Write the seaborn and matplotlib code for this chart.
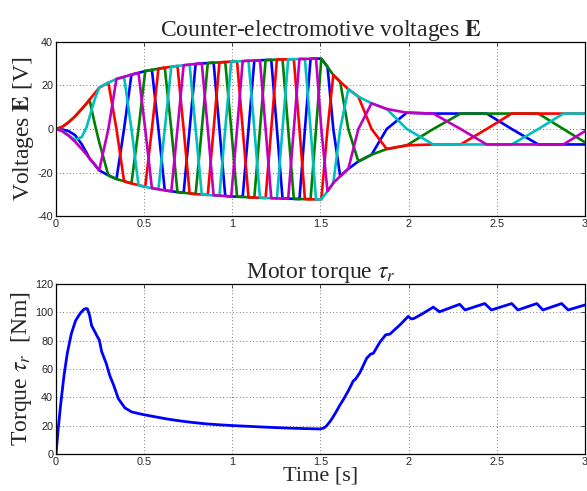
import matplotlib
matplotlib.use("Agg")
import matplotlib.pyplot as plt
import pandas as pd
import seaborn as sns

# event times of the 5-phase back-EMF (corners / zero crossings)
t_ev = [0, 0.035, 0.07, 0.108, 0.146, 0.174, 0.19, 0.221, 0.245,
        0.297, 0.343, 0.386, 0.428, 0.468, 0.506, 0.544, 0.581, 0.617, 0.654,
        0.689, 0.724, 0.758, 0.792, 0.827, 0.861, 0.894, 0.927, 0.960, 0.994,
        1.027, 1.059, 1.092, 1.125, 1.157, 1.189, 1.221, 1.253, 1.285, 1.317,
        1.349, 1.381, 1.412, 1.444, 1.475, 1.505, 1.540, 1.573, 1.612, 1.658,
        1.715, 1.790, 1.876, 1.990, 2.140, 2.295, 2.443, 2.585, 2.736, 2.878, 3.020]

e_blue = [0, -0.2, -0.9, -2.8, -7.0, -11.0, -13.5, -16.5, -19.0,
          -21.3, -23.0, 0, 25.0, 25.8, 26.6, 27.2, 0, -28.2, -28.6,
          -29.0, -29.3, 0, 29.9, 30.1, 30.3, 30.5, 0, -30.8, -31.0,
          -31.1, -31.2, 0, 31.5, 31.6, 31.7, 31.8, 0, -32.0, -32.0,
          -32.1, -32.2, 0, 32.3, 32.4, 32.3, 28.6, 0, -21.7, -18.3,
          -14.9, -11.8, 0, 7.5, 7.1, 7.1, 7.1, 0, -7.1, -7.1, -7.1]

e_green = [0, 1.0, 3.0, 5.8, 9.2, 11.8, 13.5, 2.0, -6.0,
           -21.3, -23.0, -24.0, -25.0, 0, 26.6, 27.2, 27.7, 28.2, 0,
           -29.0, -29.3, -29.6, -29.9, 0, 30.3, 30.5, 30.6, 30.8, 0,
           -31.1, -31.2, -31.4, -31.5, 0, 31.7, 31.8, 31.9, 32.0, 0,
           -32.1, -32.2, -32.2, -32.3, 0, 32.3, 28.6, 24.8, 21.7, 0,
           -14.9, -11.8, -9.2, -7.5, 0, 7.1, 7.1, 7.1, 7.1, 0, -7.1]

e_red = [0, 1.0, 3.0, 5.8, 9.2, 11.8, 13.5, 16.5, 19.0,
         21.3, 0, -24.0, -25.0, -25.8, -26.6, 0, 27.7, 28.2, 28.6,
         29.0, 0, -29.6, -29.9, -30.1, -30.3, 0, 30.6, 30.8, 31.0,
         31.1, 0, -31.4, -31.5, -31.6, -31.7, 0, 31.9, 32.0, 32.0,
         32.1, 0, -32.2, -32.3, -32.4, -32.3, 0, 24.8, 21.7, 18.3,
         14.9, 0, -9.2, -7.5, -7.1, -7.1, 0, 7.1, 7.1, 7.1, 7.1]

e_cyan = [0, -0.8, -2.8, -5.0, -3.7, 0.9, 5.5, 14.0, 19.0,
          21.3, 23.0, 24.0, 0, -25.8, -26.6, -27.2, -27.7, 0, 28.6,
          29.0, 29.3, 29.6, 0, -30.1, -30.3, -30.5, -30.6, 0, 31.0,
          31.1, 31.2, 31.4, 0, -31.6, -31.7, -31.8, -31.9, 0, 32.0,
          32.1, 32.2, 32.2, 0, -32.4, -32.3, -28.6, -24.8, 0, 18.3,
          14.9, 11.8, 9.2, 0, -7.1, -7.1, -7.1, -7.1, 0, 7.1, 7.1]

e_magenta = [0, -1.0, -3.0, -5.8, -9.2, -11.8, -13.5, -16.5, -19.0,
             0, 23.0, 24.0, 25.0, 25.8, 0, -27.2, -27.7, -28.2, -28.6,
             0, 29.3, 29.6, 29.9, 30.1, 0, -30.5, -30.6, -30.8, -31.0,
             0, 31.2, 31.4, 31.5, 31.6, 0, -31.8, -31.9, -32.0, -32.0,
             0, 32.2, 32.2, 32.3, 32.4, 0, -28.6, -24.8, -21.7, -18.3,
             0, 11.8, 9.2, 7.5, 7.1, 0, -7.1, -7.1, -7.1, -7.1, 0]

# motor torque
torque_t = [0, 0.011, 0.026, 0.045, 0.064, 0.087, 0.111, 0.14, 0.159, 0.17,
            0.178, 0.19, 0.202, 0.231, 0.246, 0.259, 0.284, 0.306, 0.325, 0.354,
            0.391, 0.429, 0.47, 0.5, 0.556, 0.631, 0.707, 0.773, 0.85, 0.93,
            1.0, 1.1, 1.2, 1.3, 1.4, 1.5, 1.52, 1.535, 1.56, 1.585,
            1.61, 1.63, 1.658, 1.686, 1.70, 1.724, 1.745, 1.762, 1.785, 1.80,
            1.838, 1.87, 1.894, 1.92, 1.951, 1.998, 2.015, 2.03, 2.074, 2.14,
            2.175, 2.29, 2.32, 2.432, 2.47, 2.585, 2.62, 2.727, 2.762, 2.868,
            2.905, 3.0]
torque = [0, 16, 34.5, 55, 71, 84.8, 94, 99.6, 102, 102.5,
          102.3, 98, 90.5, 83.6, 80.2, 72.2, 64.2, 55, 49.3, 39,
          32.6, 29.8, 28.6, 27.8, 26.5, 24.8, 23.4, 22.4, 21.4, 20.7,
          20.2, 19.6, 19.0, 18.5, 18.1, 17.8, 18.5, 20, 24, 29,
          34.5, 38.5, 44.6, 51.5, 53, 57.5, 63, 67.5, 70.5, 71,
          79, 84, 84.5, 87.5, 91, 97, 95.2, 95.5, 98.5, 103.5,
          100.2, 105.5, 101.5, 106, 101.5, 106, 101.5, 106, 101.5, 106,
          101.5, 105]

phase_names = ["e1", "e2", "e3", "e4", "e5"]
phase_colors = ["#0000ff", "#008000", "#ff0000", "#00bfbf", "#bf00bf"]
x_ticks = [0, 0.5, 1, 1.5, 2, 2.5, 3]
x_labels = ["0", "0.5", "1", "1.5", "2", "2.5", "3"]

sns.set_style("white")
plt.rcParams["font.family"] = ["Liberation Serif", "DejaVu Serif"]
plt.rcParams["mathtext.fontset"] = "stix"
plt.rcParams["axes.unicode_minus"] = False

emf = pd.DataFrame({
    "t": t_ev * 5,
    "E": e_blue + e_green + e_red + e_cyan + e_magenta,
    "phase": [p for p in phase_names for _ in t_ev],
})

fig = plt.figure(figsize=(5.87, 4.91), dpi=100)
ax1 = fig.add_axes([0.0954, 0.560, 0.901, 0.3545])
ax2 = fig.add_axes([0.0954, 0.0748, 0.901, 0.3475])

sns.lineplot(data=emf, x="t", y="E", hue="phase", hue_order=phase_names,
             palette=phase_colors, estimator=None, legend=False,
             linewidth=1.9, ax=ax1)
sns.lineplot(x=torque_t, y=torque, color="#0000ff", estimator=None,
             linewidth=2.0, ax=ax2)

for ax in (ax1, ax2):
    ax.set_xlim(0, 3)
    ax.set_xticks(x_ticks)
    ax.set_xticklabels(x_labels)
    ax.grid(True, linestyle=(0, (1, 3)), color="k", linewidth=0.6, alpha=0.7)
    ax.tick_params(direction="in", length=3, width=0.6, top=True, right=True,
                   labelsize=7.8, labelfontfamily="Liberation Sans", pad=2)
    for sp in ax.spines.values():
        sp.set_color("k")
        sp.set_linewidth(0.9)

ax1.set_ylim(-40, 40)
ax1.set_yticks([-40, -20, 0, 20, 40])
ax1.set_title("Counter-electromotive voltages $\\mathbf{E}$", fontsize=17, pad=4)
ax1.set_ylabel("Voltages $\\mathbf{E}$ [V]", fontsize=17, labelpad=1)
ax1.set_xlabel("")

ax2.set_ylim(0, 120)
ax2.set_yticks([0, 20, 40, 60, 80, 100, 120])
ax2.set_title("Motor torque $\\tau_r$", fontsize=17, pad=4)
ax2.set_ylabel("Torque $\\tau_r$  [Nm]", fontsize=17, labelpad=1)
ax2.set_xlabel("Time [s]", fontsize=16, labelpad=-0.5)

fig.savefig("out.png", dpi=100)
